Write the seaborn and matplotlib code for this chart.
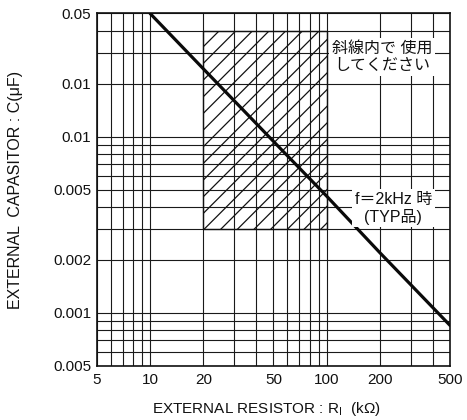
import seaborn as sns
import matplotlib.pyplot as plt
import matplotlib.ticker as mticker
import pandas as pd

# curve (f = 2kHz, TYP)
resistor_k = [10, 20, 50, 100, 200, 500]
capacitor_uf = [0.05, 0.0243, 0.0094, 0.0046, 0.0022, 0.00085]

# recommended (hatched) region
region_r = [20, 100]
region_c_low = [0.003, 0.003]
region_c_high = [0.04, 0.04]

x_ticks = [5, 10, 20, 50, 100, 200, 500]
x_labels = ['5', '10', '20', '50', '100', '200', '500']
y_ticks = [0.0005, 0.001, 0.002, 0.005, 0.01, 0.02, 0.05]
y_labels = ['0.005', '0.001', '0.002', '0.005', '0.01', '0.01', '0.05']

sns.set_theme(style='white')
plt.rcParams['font.family'] = ['Liberation Sans', 'Noto Sans CJK JP', 'DejaVu Sans']
plt.rcParams['hatch.linewidth'] = 0.9

df = pd.DataFrame({'R': resistor_k, 'C': capacitor_uf})

fig = plt.figure(figsize=(4.67, 4.20), dpi=100)
ax = fig.add_axes([0.2077, 0.1286, 0.7559, 0.8393])
ax.set_xscale('log')
ax.set_yscale('log')
ax.set_xlim(5, 500)
ax.set_ylim(0.0005, 0.05)

ax.grid(which='both', color='#1a1a1a', linewidth=0.8)
ax.set_axisbelow(True)

ax.fill_between(region_r, region_c_low, region_c_high, facecolor='none',
                edgecolor='#111111', hatch='//', linewidth=1.0, zorder=2)

sns.lineplot(data=df, x='R', y='C', color='#0a0a0a', linewidth=2.3, ax=ax, zorder=3)

ax.xaxis.set_major_locator(mticker.FixedLocator(x_ticks))
ax.xaxis.set_major_formatter(mticker.FixedFormatter(x_labels))
ax.xaxis.set_minor_locator(mticker.LogLocator(base=10, subs=range(2, 10)))
ax.xaxis.set_minor_formatter(mticker.NullFormatter())
ax.yaxis.set_major_locator(mticker.FixedLocator(y_ticks))
ax.yaxis.set_major_formatter(mticker.FixedFormatter(y_labels))
ax.yaxis.set_minor_locator(mticker.LogLocator(base=10, subs=range(1, 10)))
ax.yaxis.set_minor_formatter(mticker.NullFormatter())
ax.tick_params(which='both', length=0, labelsize=11, colors='#111111')
ax.tick_params(axis='x', pad=5)
ax.tick_params(axis='y', pad=4)

for s in ax.spines.values():
    s.set_color('#111111')
    s.set_linewidth(1.2)

ax.set_xlabel('EXTERNAL RESISTOR : R$_\\mathregular{I}$  (k\u03a9)', fontsize=11, color='#111111')
ax.set_ylabel('EXTERNAL  CAPASITOR : C(\u03bcF)', fontsize=11.5, color='#111111')
ax.xaxis.set_label_coords(0.479, -0.097)
ax.yaxis.set_label_coords(-0.21, 0.5)

box = dict(facecolor='white', edgecolor='none', pad=2)
ax.text(0.807, 0.877, '斜線内で 使用\nしてください', transform=ax.transAxes,
        ha='center', va='center', fontsize=11.5, linespacing=1.2,
        color='#111111', bbox=box, zorder=5)
ax.text(0.839, 0.448, 'f\uff1d2kHz 時\n(TYP品)', transform=ax.transAxes,
        ha='center', va='center', fontsize=11.5, linespacing=1.15,
        color='#111111', bbox=box, zorder=5)

if ax.get_legend() is not None:
    ax.get_legend().remove()

fig.savefig('out.png', dpi=100)
